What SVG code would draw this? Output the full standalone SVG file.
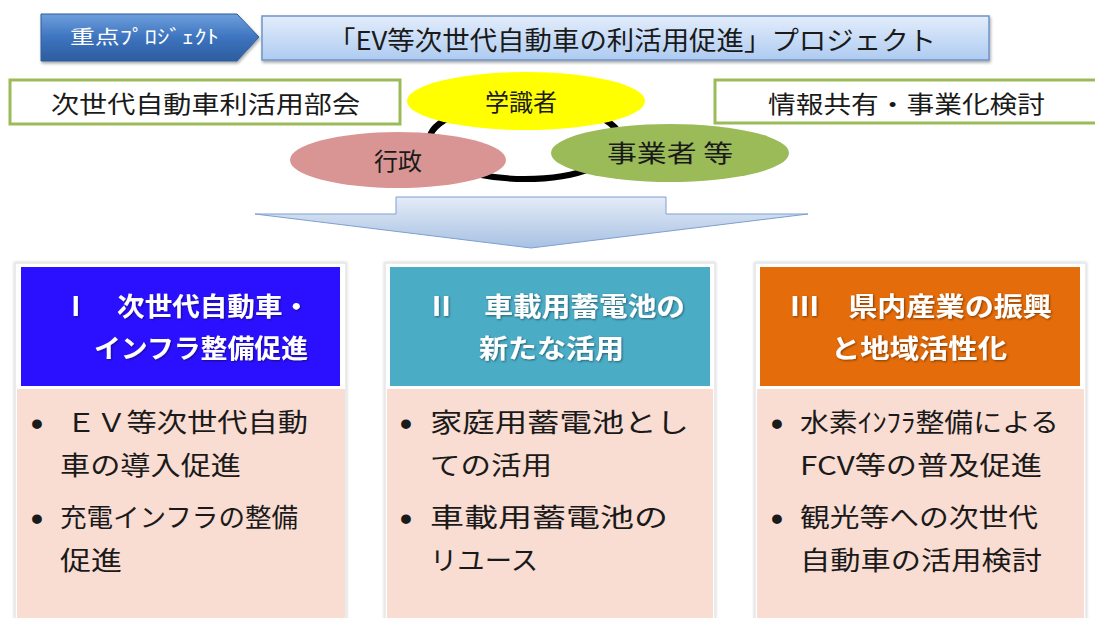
<svg xmlns="http://www.w3.org/2000/svg" width="1095" height="618" viewBox="0 0 1095 618">
<style>
.jp{font-family:"Noto Sans CJK JP","Noto Sans",sans-serif;}
.dark{fill:#1a1a1a;}
.hdr{fill:#ffffff;font-weight:bold;font-size:26px;filter:url(#tsh);}
.body{font-size:26px;}
.bul{font-family:"Liberation Sans",sans-serif;font-size:34px;font-weight:bold;fill:#1a1a1a;}
.lbl{font-size:24px;}
.gbox{fill:#ffffff;stroke:#9bbb59;stroke-width:3;}
.frame{fill:#ffffff;stroke:#e6e6e6;stroke-width:1.5;filter:url(#bsh);}
.pink{fill:#f9dcd2;}
</style>
<defs>
<linearGradient id="gArrow" x1="0" y1="0" x2="0" y2="1">
<stop offset="0" stop-color="#6e9fdc"/>
<stop offset="0.5" stop-color="#3d74bf"/>
<stop offset="1" stop-color="#2d5d9e"/>
</linearGradient>
<linearGradient id="gTitle" x1="0" y1="0" x2="0" y2="1">
<stop offset="0" stop-color="#e3edfb"/>
<stop offset="1" stop-color="#aecbf1"/>
</linearGradient>
<linearGradient id="gDown" x1="0" y1="0" x2="0" y2="1">
<stop offset="0" stop-color="#e4ecf7"/>
<stop offset="1" stop-color="#a8c1e3"/>
</linearGradient>
<filter id="tsh" x="-10%" y="-30%" width="120%" height="160%">
<feDropShadow dx="1" dy="1" stdDeviation="1.2" flood-color="#000" flood-opacity="0.45"/>
</filter>
<filter id="bsh" x="-5%" y="-5%" width="110%" height="110%">
<feDropShadow dx="0" dy="0" stdDeviation="1.5" flood-color="#000" flood-opacity="0.2"/>
</filter>
<filter id="ash" x="-5%" y="-10%" width="110%" height="130%">
<feDropShadow dx="1" dy="2" stdDeviation="1.5" flood-color="#000" flood-opacity="0.35"/>
</filter>
</defs>
<rect width="1095" height="618" fill="#ffffff"/>

<g id="badge">
<polygon points="41,14 237,14 259,37 237,61 41,61" fill="url(#gArrow)" stroke="#2f5f9a" stroke-width="1" filter="url(#ash)"/>
<text class="jp" x="70" y="44" font-size="19" fill="#ffffff" textLength="149" lengthAdjust="spacingAndGlyphs">重点ﾌﾟﾛｼﾞｪｸﾄ</text>
</g>
<g id="title">
<rect x="262" y="16" width="727" height="44" fill="url(#gTitle)" stroke="#6f94c8" stroke-width="1.5" filter="url(#ash)"/>
<text class="jp dark" x="328" y="50" font-size="26" textLength="608" lengthAdjust="spacingAndGlyphs">「EV等次世代自動車の利活用促進」プロジェクト</text>
</g>

<g id="bukai">
<rect class="gbox" x="10" y="80" width="390" height="44"/>
<text class="jp dark lbl" x="51" y="113" textLength="309" lengthAdjust="spacingAndGlyphs">次世代自動車利活用部会</text>
</g>
<g id="johokyoyu">
<rect class="gbox" x="715" y="80" width="385" height="43"/>
<text class="jp dark lbl" x="768" y="113" textLength="277" lengthAdjust="spacingAndGlyphs">情報共有・事業化検討</text>
</g>

<g id="connectors">
<ellipse cx="525" cy="141" rx="96" ry="38" fill="none" stroke="#000000" stroke-width="6"/>
</g>

<g id="gakushiki">
<ellipse cx="526" cy="101" rx="119" ry="29" fill="#ffff00"/>
<text class="jp dark lbl" x="521" y="111" text-anchor="middle">学識者</text>
</g>
<g id="gyosei">
<ellipse cx="398" cy="160" rx="108" ry="28" fill="#d99594"/>
<text class="jp dark lbl" x="398" y="170" text-anchor="middle">行政</text>
</g>
<g id="jigyosha">
<ellipse cx="670" cy="153" rx="119" ry="29" fill="#9bbb59"/>
<text class="jp dark lbl" x="670" y="162" text-anchor="middle" textLength="126" lengthAdjust="spacingAndGlyphs">事業者 等</text>
</g>

<g id="downarrow">
<polygon points="396,197 666,197 666,214 808,214 531,248 255,214 396,214" fill="url(#gDown)" stroke="#7f9fcf" stroke-width="1"/>
</g>

<g id="col1">
<rect class="frame" x="15" y="263" width="331" height="360"/>
<rect x="21" y="267" width="319" height="119" fill="#2b10ff"/>
<rect class="pink" x="17" y="389" width="328" height="235"/>
<text class="jp hdr" x="62" y="316" textLength="248" lengthAdjust="spacingAndGlyphs">Ⅰ　次世代自動車・</text>
<text class="jp hdr" x="94" y="358" textLength="214" lengthAdjust="spacingAndGlyphs">インフラ整備促進</text>
<text class="bul" x="31" y="435">•</text>
<text class="jp dark body" x="66" y="432" textLength="242" lengthAdjust="spacingAndGlyphs">ＥＶ等次世代自動</text>
<text class="jp dark body" x="60" y="475" textLength="181" lengthAdjust="spacingAndGlyphs">車の導入促進</text>
<text class="bul" x="31" y="530">•</text>
<text class="jp dark body" x="60" y="527" textLength="238" lengthAdjust="spacingAndGlyphs">充電インフラの整備</text>
<text class="jp dark body" x="60" y="570" textLength="62" lengthAdjust="spacingAndGlyphs">促進</text>
</g>

<g id="col2">
<rect class="frame" x="385" y="263" width="330" height="360"/>
<rect x="390" y="267" width="320" height="119" fill="#4bacc6"/>
<rect class="pink" x="387" y="389" width="326" height="235"/>
<text class="jp hdr" x="427" y="316" textLength="258" lengthAdjust="spacingAndGlyphs">Ⅱ　車載用蓄電池の</text>
<text class="jp hdr" x="479" y="358" textLength="145" lengthAdjust="spacingAndGlyphs">新たな活用</text>
<text class="bul" x="400" y="435">•</text>
<text class="jp dark body" x="430" y="432" textLength="259" lengthAdjust="spacingAndGlyphs">家庭用蓄電池とし</text>
<text class="jp dark body" x="430" y="475" textLength="122" lengthAdjust="spacingAndGlyphs">ての活用</text>
<text class="bul" x="400" y="530">•</text>
<text class="jp dark body" x="430" y="527" textLength="238" lengthAdjust="spacingAndGlyphs">車載用蓄電池の</text>
<text class="jp dark body" x="430" y="570" textLength="108" lengthAdjust="spacingAndGlyphs">リユース</text>
</g>

<g id="col3">
<rect class="frame" x="755" y="263" width="331" height="360"/>
<rect x="760" y="267" width="320" height="119" fill="#e46c0a"/>
<rect class="pink" x="757" y="389" width="327" height="235"/>
<text class="jp hdr" x="790" y="316" textLength="262" lengthAdjust="spacingAndGlyphs">Ⅲ　県内産業の振興</text>
<text class="jp hdr" x="831" y="358" textLength="176" lengthAdjust="spacingAndGlyphs">と地域活性化</text>
<text class="bul" x="771" y="435">•</text>
<text class="jp dark body" x="800" y="432" textLength="259" lengthAdjust="spacingAndGlyphs">水素ｲﾝﾌﾗ整備による</text>
<text class="jp dark body" x="800" y="475" textLength="242" lengthAdjust="spacingAndGlyphs">FCV等の普及促進</text>
<text class="bul" x="771" y="530">•</text>
<text class="jp dark body" x="800" y="527" textLength="238" lengthAdjust="spacingAndGlyphs">観光等への次世代</text>
<text class="jp dark body" x="800" y="570" textLength="242" lengthAdjust="spacingAndGlyphs">自動車の活用検討</text>
</g>
</svg>
